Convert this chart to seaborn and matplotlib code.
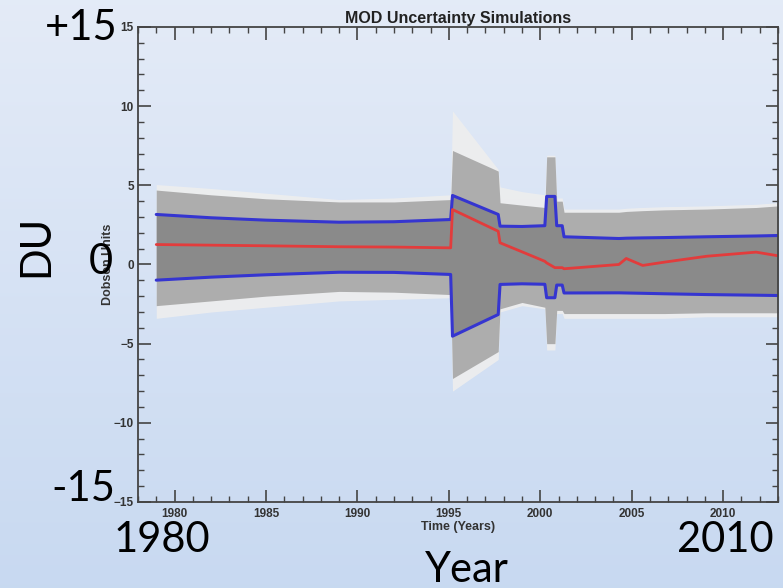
import numpy as np
import matplotlib
matplotlib.use("Agg")
import matplotlib.pyplot as plt
import seaborn as sns
from matplotlib.ticker import MultipleLocator

# breakpoints in time (years) shared by all series
years = [1979.0, 1982.0, 1985.0, 1989.0, 1992.0, 1995.1, 1995.2, 1997.7, 1997.8,
         1999.0, 2000.25, 2000.35, 2000.8, 2000.9, 2001.2, 2001.3, 2004.3,
         2004.7, 2005.6, 2006.8, 2009.1, 2011.8, 2013.0]

mean_du = [1.26, 1.22, 1.18, 1.12, 1.10, 1.05, 3.47, 2.10, 1.37, 0.80, 0.20,
           0.10, -0.20, -0.20, -0.20, -0.27, 0.00, 0.38, -0.06, 0.15, 0.52, 0.78, 0.55]
sigma_hi = [3.16, 2.95, 2.80, 2.67, 2.70, 2.84, 4.36, 3.16, 2.42, 2.40, 2.45,
            4.30, 4.30, 2.45, 2.45, 1.75, 1.64, 1.66, 1.68, 1.70, 1.75, 1.80, 1.83]
sigma_lo = [-0.99, -0.80, -0.65, -0.49, -0.50, -0.63, -4.53, -3.16, -1.26, -1.22, -1.25,
            -2.10, -2.10, -1.30, -1.30, -1.80, -1.79, -1.80, -1.82, -1.85, -1.90, -1.94, -1.96]
core_hi = [4.70, 4.40, 4.15, 3.95, 3.95, 4.10, 7.20, 5.90, 3.90, 3.75, 3.60,
           6.80, 6.80, 4.00, 4.00, 3.30, 3.30, 3.35, 3.40, 3.45, 3.50, 3.60, 3.70]
core_lo = [-2.60, -2.30, -2.00, -1.70, -1.75, -1.90, -7.20, -5.50, -2.80, -2.40, -2.70,
           -5.00, -5.00, -2.90, -2.90, -3.10, -3.10, -3.10, -3.10, -3.10, -3.05, -3.05, -3.05]
outer_hi = [5.05, 4.80, 4.50, 4.10, 4.20, 4.40, 9.70, 6.00, 4.90, 4.60, 4.40,
            6.90, 6.90, 4.20, 4.20, 3.50, 3.50, 3.55, 3.60, 3.65, 3.70, 3.80, 3.90]
outer_lo = [-3.40, -3.00, -2.70, -2.30, -2.20, -2.10, -8.00, -6.00, -3.00, -2.60, -2.80,
            -5.40, -5.40, -3.10, -3.10, -3.40, -3.40, -3.40, -3.40, -3.40, -3.30, -3.30, -3.30]

major_years = [1980, 1985, 1990, 1995, 2000, 2005, 2010]
du_ticks = [-15, -10, -5, 0, 5, 10, 15]

sns.set_style("ticks")
plt.rcParams['font.family'] = ['Liberation Sans', 'DejaVu Sans']

fig = plt.figure(figsize=(7.83, 5.88), dpi=100)

# slide background gradient
bg = fig.add_axes([0, 0, 1, 1], zorder=-10)
grad = np.linspace(0, 1, 256).reshape(-1, 1)
top = np.array([0.894, 0.922, 0.969])
bot = np.array([0.784, 0.851, 0.945])
img = top[None, None, :] * (1 - grad[:, :, None]) + bot[None, None, :] * grad[:, :, None]
bg.imshow(img, aspect='auto', extent=[0, 1, 0, 1])
bg.axis('off')

ax = fig.add_axes([0.1762, 0.1463, 0.8174, 0.8078])
ax.set_facecolor('none')

ax.fill_between(years, outer_lo, outer_hi, color='#eeeeee', lw=0, alpha=0.9)
ax.fill_between(years, core_lo, core_hi, color='#adadad', lw=0)
ax.fill_between(years, sigma_lo, sigma_hi, color='#8a8a8a', lw=0)

sns.lineplot(x=years, y=sigma_hi, color='#3535d0', lw=2.2, ax=ax, estimator=None, sort=False)
sns.lineplot(x=years, y=sigma_lo, color='#3535d0', lw=2.2, ax=ax, estimator=None, sort=False)
sns.lineplot(x=years, y=mean_du, color='#e23c3c', lw=2.0, ax=ax, estimator=None, sort=False)

ax.set_xlim(1978, 2013)
ax.set_ylim(-15, 15)
ax.set_xticks(major_years)
ax.set_yticks(du_ticks)
ax.xaxis.set_minor_locator(MultipleLocator(1))
ax.yaxis.set_minor_locator(MultipleLocator(1))
ax.tick_params(which='both', direction='in', top=True, right=True, color='#444444',
               labelsize=8.5, labelcolor='#333333')
ax.tick_params(axis='x', which='major', pad=4)
ax.tick_params(axis='y', which='major', pad=3)
ax.tick_params(which='major', length=9, width=1.2)
ax.tick_params(which='minor', length=4, width=1.0)
for lab in ax.get_xticklabels() + ax.get_yticklabels():
    lab.set_fontweight('bold')
for sp in ax.spines.values():
    sp.set_color('#444444')
    sp.set_linewidth(1.3)

ax.set_title('MOD Uncertainty Simulations', fontsize=11.5, fontweight='bold', color='#222222', pad=3)
ax.set_xlabel('Time (Years)', fontsize=9, fontweight='bold', color='#333333', labelpad=1)
ax.set_ylabel('Dobson Units', fontsize=9, fontweight='bold', color='#333333', labelpad=0)

# large slide annotations
big = dict(fontsize=30, family=['Lato', 'DejaVu Sans'], color='black', transform=fig.transFigure)
fig.text(81 / 783, 1 - 28 / 588, '+15', ha='center', va='center', **big)
fig.text(36 / 783, 1 - 246 / 588, 'DU', ha='center', va='center', rotation=90, **big)
fig.text(101 / 783, 1 - 262 / 588, '0', ha='center', va='center', **big)
fig.text(115 / 783, 1 - 489 / 588, '-15', ha='right', va='center', **big)
fig.text(162 / 783, 1 - 540 / 588, '1980', ha='center', va='center', **big)
fig.text(725 / 783, 1 - 540 / 588, '2010', ha='center', va='center', **big)
fig.text(467 / 783, 1 - 570 / 588, 'Year', ha='center', va='center', **big)

fig.savefig('out.png', dpi=100)
